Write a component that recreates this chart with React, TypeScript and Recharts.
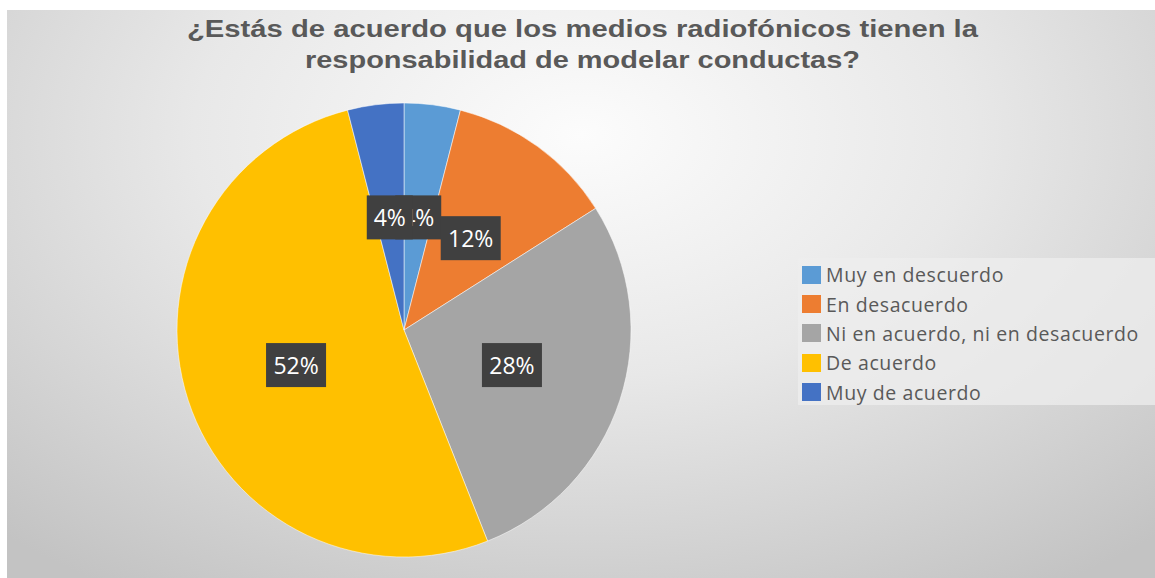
import React from 'react';
import { PieChart, Pie, Cell, Legend } from 'recharts';

const categories = [
  'Muy en descuerdo',
  'En desacuerdo',
  'Ni en acuerdo, ni en desacuerdo',
  'De acuerdo',
  'Muy de acuerdo',
];
const percents = [4, 12, 28, 52, 4];
const colors = ['#5B9BD5', '#ED7D31', '#A5A5A5', '#FFC000', '#4472C4'];
const titleLines = [
  '¿Estás de acuerdo que los medios radiofónicos tienen la',
  'responsabilidad de modelar conductas?',
];

const data = categories.map((name, i) => ({ name, value: percents[i] }));

const RADIAN = Math.PI / 180;

// dark boxed label at half radius, like Excel data callouts
const renderLabel = (props: any) => {
  const { cx, cy, midAngle, outerRadius, value } = props;
  const r = outerRadius * 0.5;
  const x = cx + r * Math.cos(-midAngle * RADIAN);
  const y = cy + r * Math.sin(-midAngle * RADIAN);
  const text = `${value}%`;
  const w = 18 + 14 * text.length;
  const h = 44;
  return (
    <g>
      <rect x={x - w / 2} y={y - h / 2} width={w} height={h} fill="#404040" />
      <text
        x={x}
        y={y}
        fill="#ffffff"
        textAnchor="middle"
        dominantBaseline="central"
        fontFamily="'Open Sans', sans-serif"
        fontSize={23}
      >
        {text}
      </text>
    </g>
  );
};

const renderLegend = () => (
  <div style={{ background: 'rgba(238,238,238,0.75)', width: 357, height: 147, paddingTop: 2, boxSizing: 'border-box' }}>
    {categories.map((c, i) => (
      <div key={c} style={{ display: 'flex', alignItems: 'center', height: 29.4 }}>
        <span style={{ display: 'inline-block', width: 19, height: 18, background: colors[i], marginLeft: 4, marginRight: 5 }} />
        <span style={{ fontFamily: "'Open Sans', sans-serif", fontSize: 19.5, letterSpacing: 0.6, color: '#595959', whiteSpace: 'nowrap' }}>{c}</span>
      </div>
    ))}
  </div>
);

export default function App() {
  return (
    <div style={{ position: 'absolute', left: 0, top: 0, width: 1155, height: 578, background: '#ffffff', overflow: 'hidden' }}>
      <div
        style={{
          position: 'absolute',
          left: 7,
          top: 10,
          width: 1148,
          height: 568,
          background: 'radial-gradient(ellipse 75% 95% at 50% 22%, #fcfcfc 0%, #e8e8e8 45%, #c3c3c3 100%)',
        }}
      />
      <div style={{ position: 'absolute', left: 0, top: 0 }}>
        <PieChart width={1155} height={578} margin={{ top: 0, right: 0, bottom: 0, left: 0 }}>
          <Pie
            data={data}
            dataKey="value"
            nameKey="name"
            cx={404}
            cy={330}
            outerRadius={227}
            startAngle={90}
            endAngle={-270}
            stroke="rgba(255,255,255,0.5)"
            strokeWidth={1}
            label={renderLabel}
            labelLine={false}
            isAnimationActive={false}
          >
            {data.map((d, i) => (
              <Cell key={d.name} fill={colors[i]} />
            ))}
          </Pie>
          <Legend
            layout="vertical"
            verticalAlign="top"
            align="right"
            content={renderLegend}
            wrapperStyle={{ left: 798, top: 258, width: 357 }}
          />
        </PieChart>
      </div>
      <svg width={1155} height={90} style={{ position: 'absolute', left: 0, top: 0 }}>
        {titleLines.map((t, i) => (
          <text
            key={t}
            x={582.5}
            y={37 + i * 31}
            textAnchor="middle"
            fontFamily="'Liberation Sans', Arial, sans-serif"
            fontWeight="bold"
            fontSize={23}
            fill="#595959"
            textLength={i === 0 ? 791 : 555}
            lengthAdjust="spacingAndGlyphs"
          >
            {t}
          </text>
        ))}
      </svg>
    </div>
  );
}
